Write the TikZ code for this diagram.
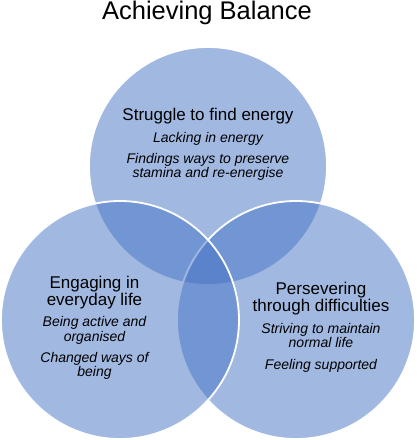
\documentclass[tikz,border=0pt]{standalone}
\usepackage{fontspec}
\setmainfont{Liberation Sans}
\definecolor{vennblue}{HTML}{4472C4}
\tikzset{
  venn/.style={circle,minimum size=238pt,inner sep=0pt,fill=vennblue,fill opacity=0.5,draw=white,line width=1.8pt},
  heading/.style={align=center,inner sep=0pt,anchor=base,font=\fontsize{17}{17}\selectfont},
  detail/.style={align=center,inner sep=0pt,anchor=base,font=\fontsize{14}{12.7}\selectfont\itshape},
}
\begin{document}
\begin{tikzpicture}[x=1pt,y=-1pt]
        \useasboundingbox (0,0) rectangle (416,440);
        \node[inner sep=0pt,anchor=base,font=\fontsize{25.5}{26}\selectfont] (title) at (207,19.6) {Achieving Balance};
        % circles, drawn top, right, left
        \foreach \name/\x/\y in {top/208/166,right/296/320,left/120/320} {
            \node[venn] (\name) at (\x,\y) {};
          }
        % top circle (base = last line)
        \node[heading] (energy) at (208,120) {Struggle to find energy};
        \node[detail] (lacking) at (208,142.7) {Lacking in energy};
        \node[detail] (preserve) at (208,177.5) {Findings ways to preserve\\stamina and re-energise};
        % left circle
        \node[heading] (engaging) at (94.5,305) {Engaging in\\everyday life};
        \node[detail] (active) at (94.5,341) {Being active and\\organised};
        \node[detail] (changed) at (94.5,376.3) {Changed ways of\\being};
        % right circle
        \node[heading] (persevering) at (321,311.7) {Persevering\\through difficulties};
        \node[detail] (striving) at (321,347.7) {Striving to maintain\\normal life};
        \node[detail] (supported) at (321,369.3) {Feeling supported};
      \end{tikzpicture}
\end{document}
